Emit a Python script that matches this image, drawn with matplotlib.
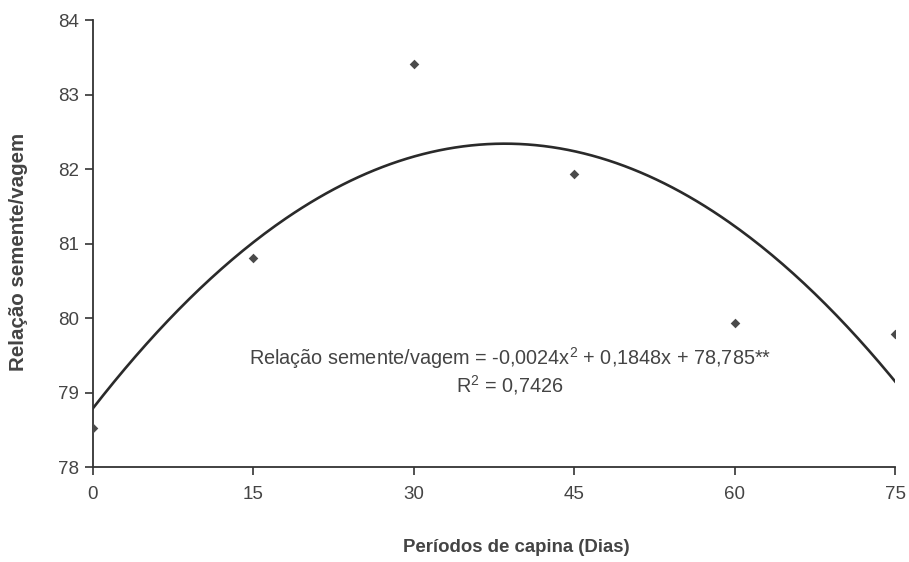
import numpy as np
import matplotlib
matplotlib.use("Agg")
import matplotlib.pyplot as plt

plt.rcParams['font.family'] = ['Liberation Sans', 'DejaVu Sans']

# Data
periods = [0, 15, 30, 45, 60, 75]
ratio = [78.53, 80.81, 83.41, 81.93, 79.93, 79.79]
coef_a, coef_b, coef_c = -0.0024, 0.1848, 78.785
x_ticks = [0, 15, 30, 45, 60, 75]
y_ticks = [78, 79, 80, 81, 82, 83, 84]
eq_text = "Relação semente/vagem = -0,0024x$^2$ + 0,1848x + 78,785**"
r2_text = "R$^2$ = 0,7426"

plt.rcParams['mathtext.fontset'] = 'custom'
plt.rcParams['mathtext.rm'] = 'Liberation Sans'
plt.rcParams['mathtext.it'] = 'Liberation Sans'
plt.rcParams['mathtext.default'] = 'regular'

fig = plt.figure(figsize=(9.09, 5.62), dpi=100)
ax = fig.add_axes([0.102, 0.169, 0.883, 0.795])

xs = np.linspace(0, 75, 300)
ys = coef_a * xs**2 + coef_b * xs + coef_c
ax.plot(xs, ys, color='#2a2a2a', lw=1.9)
ax.scatter(periods, ratio, marker='D', s=24, color='#4a4a4a', zorder=3, linewidths=0)

ax.set_xlim(0, 75)
ax.set_ylim(78, 84)
ax.set_xticks(x_ticks)
ax.set_yticks(y_ticks)
ax.set_xticklabels([str(v) for v in x_ticks])
ax.set_yticklabels([str(v) for v in y_ticks])
for s in ['top', 'right']:
    ax.spines[s].set_visible(False)
for s in ['left', 'bottom']:
    ax.spines[s].set_color('#333333')
    ax.spines[s].set_linewidth(1.3)
ax.tick_params(axis='both', colors='#333333', labelsize=13.5, length=6, width=1.2, direction='out')
ax.tick_params(axis='x', pad=8)
ax.tick_params(axis='y', pad=4)
for lab in ax.get_xticklabels() + ax.get_yticklabels():
    lab.set_color('#444444')

ax.set_xlabel("Períodos de capina (Dias)", fontsize=13.4, fontweight='bold', color='#444444')
ax.set_ylabel("Relação semente/vagem", fontsize=14.8, fontweight='bold', color='#444444')
# label positions in axes coordinates
ax.xaxis.set_label_coords((516 - 93) / 802, -(548 - 467) / 447)
ax.yaxis.set_label_coords(-(93 - 19) / 802, (467 - 252) / 447)
ax.xaxis.label.set_va('center')
ax.yaxis.label.set_va('center')

ax.text(39.0, 79.46, eq_text, ha='center', va='center', fontsize=14.3, color='#444444')
ax.text(39.0, 79.10, r2_text, ha='center', va='center', fontsize=14.3, color='#444444')

fig.savefig("out.png", dpi=100)
